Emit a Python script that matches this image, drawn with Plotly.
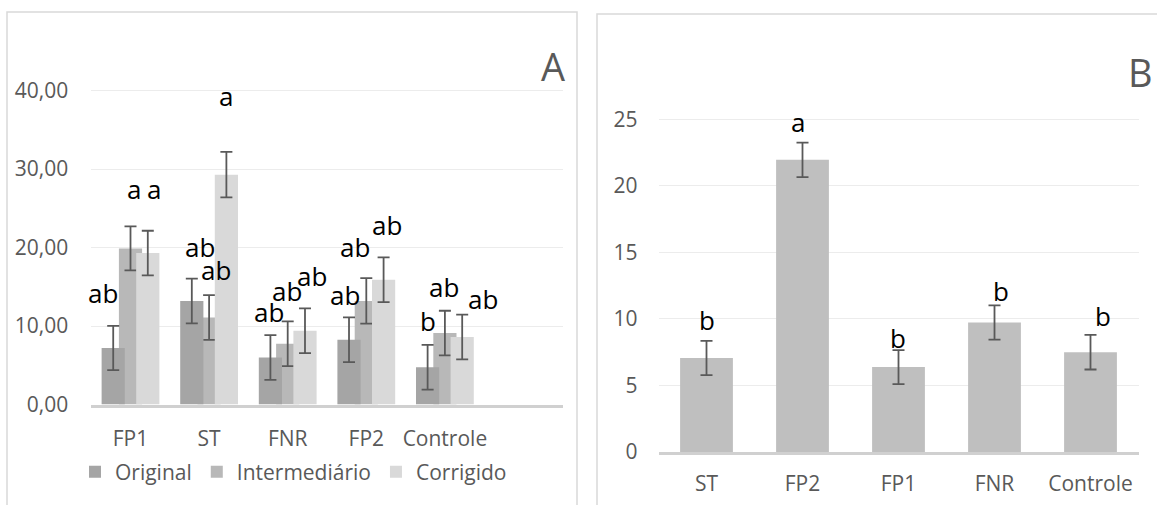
import plotly.graph_objects as go

# ---------------- data ----------------
cats_A = ["FP1", "ST", "FNR", "FP2", "Controle"]
original = [7.2, 13.2, 6.0, 8.25, 4.75]
intermediario = [19.9, 11.1, 7.75, 13.2, 9.1]
corrigido = [19.3, 29.3, 9.4, 15.9, 8.6]
err_original = [2.82, 2.85, 2.85, 2.85, 2.85]
err_intermediario = [2.8, 2.85, 2.85, 2.9, 2.85]
err_corrigido = [2.85, 2.9, 2.85, 2.85, 2.85]

letters_original = ["ab", "ab", "ab", "ab", "b"]
letters_intermediario = ["a", "ab", "ab", "ab", "ab"]
letters_corrigido = ["a", "a", "ab", "ab", "ab"]
# heights at which the significance letters sit
lety_original = [14.2, 20.1, 11.85, 14.0, 10.6]
lety_intermediario = [27.1, 17.2, 14.5, 20.1, 15.0]
lety_corrigido = [27.1, 38.9, 16.4, 22.9, 13.4]
letdx_original = [-0.35, -0.12, -0.235, -0.27, -0.21]
letdx_intermediario = [0.05, 0.085, -0.01, -0.15, -0.01]
letdx_corrigido = [0.30, 0.22, 0.31, 0.26, 0.48]

ticks_A = [0, 10, 20, 30, 40]

cats_B = ["ST", "FP2", "FP1", "FNR", "Controle"]
vals_B = [7.06, 21.95, 6.38, 9.73, 7.5]
err_B = [1.29, 1.29, 1.28, 1.29, 1.3]
letters_B = ["b", "a", "b", "b", "b"]
lety_B = [9.93, 24.6, 8.6, 12.1, 10.2]
letdx_B = [0.01, -0.05, -0.01, 0.07, 0.135]
ticks_B = [0, 5, 10, 15, 20, 25]

# ---------------- styling ----------------
W, H = 1157, 505
GRAY_TXT = "#595959"
ERR = "#595959"
FONT = "Open Sans"
col_orig = "#a5a5a5"
col_int = "#b8b8b8"
col_corr = "#d9d9d9"
col_B = "#bfbfbf"
bw = 0.295
off = 0.22


def px(x):
    return x / W


def py(y):
    return 1 - y / H


fig = go.Figure()

err_style = dict(type="data", color=ERR, thickness=1.8, width=6, visible=True)

# draw order: Intermediário under Original and Corrigido
fig.add_trace(go.Bar(
    x=cats_A, y=intermediario, name="Intermediário", legendrank=2,
    width=bw, offset=-bw / 2, marker=dict(color=col_int, line=dict(width=0)),
    error_y=dict(array=err_intermediario, **err_style),
    xaxis="x", yaxis="y"))
fig.add_trace(go.Bar(
    x=cats_A, y=original, name="Original", legendrank=1,
    width=bw, offset=-off - bw / 2, marker=dict(color=col_orig, line=dict(width=0)),
    error_y=dict(array=err_original, **err_style),
    xaxis="x", yaxis="y"))
fig.add_trace(go.Bar(
    x=cats_A, y=corrigido, name="Corrigido", legendrank=3,
    width=bw, offset=off - bw / 2, marker=dict(color=col_corr, line=dict(width=0)),
    error_y=dict(array=err_corrigido, **err_style),
    xaxis="x", yaxis="y"))

fig.add_trace(go.Bar(
    x=cats_B, y=vals_B, name="B", showlegend=False,
    width=0.55, marker=dict(color=col_B, line=dict(width=0)),
    error_y=dict(array=err_B, **err_style),
    xaxis="x2", yaxis="y2"))

annotations = []


def add_letters(letters, ys, dxs, xref, yref):
    for i, (t, yv, dx) in enumerate(zip(letters, ys, dxs)):
        annotations.append(dict(
            x=i + dx, y=yv, xref=xref, yref=yref, text=t, showarrow=False,
            xanchor="center", yanchor="middle",
            yshift=3 if ("b" not in t) else 0,
            font=dict(family=FONT, size=26, color="#000000")))


add_letters(letters_original, lety_original, letdx_original, "x", "y")
add_letters(letters_intermediario, lety_intermediario, letdx_intermediario, "x", "y")
add_letters(letters_corrigido, lety_corrigido, letdx_corrigido, "x", "y")
add_letters(letters_B, lety_B, letdx_B, "x2", "y2")

annotations.append(dict(x=px(553), y=py(66), xref="paper", yref="paper", text="A",
                        showarrow=False, xanchor="center", yanchor="middle",
                        font=dict(family=FONT, size=38, color=GRAY_TXT)))
annotations.append(dict(x=px(1140.5), y=py(72), xref="paper", yref="paper", text="B",
                        showarrow=False, xanchor="center", yanchor="middle",
                        font=dict(family=FONT, size=38, color=GRAY_TXT)))

shapes = [
    dict(type="rect", xref="paper", yref="paper", x0=px(7), x1=px(577), y0=-0.1, y1=py(12),
         line=dict(color="#d9d9d9", width=1.5), fillcolor="rgba(0,0,0,0)", layer="below"),
    dict(type="rect", xref="paper", yref="paper", x0=px(597), x1=1.05, y0=-0.1, y1=py(14),
         line=dict(color="#d9d9d9", width=1.5), fillcolor="rgba(0,0,0,0)", layer="below"),
]

tickfont = dict(family=FONT, size=21, color=GRAY_TXT)

fig.update_layout(
    width=W, height=H, autosize=False, margin=dict(l=0, r=0, t=0, b=0, autoexpand=False),
    paper_bgcolor="white", plot_bgcolor="white",
    separators=",.",
    barmode="overlay",
    showlegend=True,
    legend=dict(orientation="h", x=px(75), y=py(472), xanchor="left", yanchor="middle",
                font=dict(family=FONT, size=21, color=GRAY_TXT),
                itemwidth=30, bgcolor="rgba(0,0,0,0)", traceorder="normal"),
    xaxis=dict(domain=[px(91.2), px(562.8)], type="category", categoryorder="array",
               categoryarray=cats_A, range=[-0.5, 5.5], showgrid=False,
               showline=True, linecolor="#d0d0d0", linewidth=3, ticks="",
               tickfont=tickfont, ticklabelstandoff=13, anchor="y"),
    yaxis=dict(domain=[py(404.5), py(75)], range=[0, 42], tickvals=ticks_A,
               tickformat=".2f", showgrid=True, gridcolor="#ececec", gridwidth=1,
               zeroline=False, showline=False, ticks="", tickfont=tickfont,
               ticklabelstandoff=22, anchor="x"),
    xaxis2=dict(domain=[px(658.5), px(1138.5)], type="category", categoryorder="array",
                categoryarray=cats_B, range=[-0.5, 4.5], showgrid=False,
                showline=True, linecolor="#d0d0d0", linewidth=3, ticks="",
                tickfont=tickfont, ticklabelstandoff=11, anchor="y2"),
    yaxis2=dict(domain=[py(452), py(99.3)], range=[0, 26.5], tickvals=ticks_B,
                showgrid=True, gridcolor="#ececec", gridwidth=1,
                zeroline=False, showline=False, ticks="", tickfont=tickfont,
                ticklabelstandoff=20, anchor="x2"),
    annotations=annotations,
    shapes=shapes,
)

fig.write_html("out.html", config={"displayModeBar": False, "responsive": False},
               post_script="document.body.style.margin='0';document.body.style.overflow='hidden';")
